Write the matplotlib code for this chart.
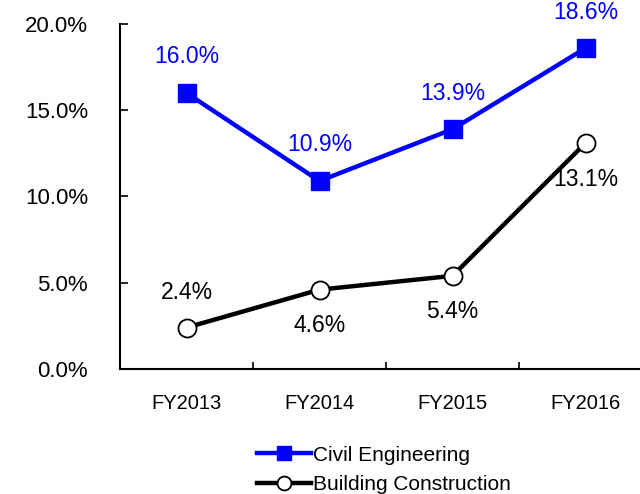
import matplotlib
matplotlib.use("Agg")
import matplotlib.pyplot as plt
from matplotlib.lines import Line2D

plt.rcParams['font.family'] = ['Liberation Sans', 'DejaVu Sans']

years = ["FY2013", "FY2014", "FY2015", "FY2016"]
civil = [16.0, 10.9, 13.9, 18.6]
building = [2.4, 4.6, 5.4, 13.1]
building_label_pos = ["above", "below", "below", "below"]

fig = plt.figure(figsize=(6.4, 4.94), dpi=100)
ax = fig.add_axes([120/640, 1-369/494, 532/640, (369-24)/494])
x = [i + 0.5 for i in range(len(years))]

ax.plot(x, civil, color='#0000FF', lw=3.2, marker='s', markersize=13,
        markerfacecolor='#0000FF', markeredgecolor='#0000FF', zorder=3)
ax.plot(x, building, color='black', lw=3.2, marker='o', markersize=13,
        markerfacecolor='white', markeredgecolor='black', markeredgewidth=1.3, zorder=3)

for xi, v in zip(x, civil):
    ax.annotate(f"{v:.1f}%", (xi, v), xytext=(0, 26), textcoords='offset points',
                ha='center', va='center', fontsize=16.5, color='#0000FF')
for xi, v, p in zip(x, building, building_label_pos):
    off = 25 if p == "above" else -26
    ax.annotate(f"{v:.1f}%", (xi, v), xytext=(0, off), textcoords='offset points',
                ha='center', va='center', fontsize=16.5, color='black')

ax.set_xlim(0, 4)
ax.set_ylim(0, 20)
ax.set_yticks([0, 5, 10, 15, 20])
ax.set_yticklabels([f"{t:.1f}%" for t in [0, 5, 10, 15, 20]], fontsize=16)
ax.set_xticks([1, 2, 3])
ax.set_xticklabels([])
ax.set_xticks(x, minor=True)
ax.set_xticklabels(years, minor=True, fontsize=14.5)
ax.tick_params(axis='x', which='major', direction='in', length=5, width=1.2)
ax.tick_params(axis='x', which='minor', length=0, pad=18)
ax.tick_params(axis='y', direction='in', length=6, width=1.2, pad=23)
for s in ['top', 'right']:
    ax.spines[s].set_visible(False)
ax.spines['left'].set_linewidth(1.5)
ax.spines['bottom'].set_linewidth(1.5)

handles = [
    Line2D([], [], color='#0000FF', lw=3.2, marker='s', markersize=10,
           markerfacecolor='#0000FF', markeredgecolor='#0000FF'),
    Line2D([], [], color='black', lw=3.2, marker='o', markersize=10,
           markerfacecolor='white', markeredgecolor='black', markeredgewidth=1.3),
]
fig.legend(handles, ["Civil Engineering", "Building Construction"],
           loc='center', bbox_to_anchor=(384/640, 1-470/494), frameon=False,
           fontsize=15, handlelength=2.6, handletextpad=0.1, labelspacing=0.5)

fig.savefig("out.png", dpi=100)
